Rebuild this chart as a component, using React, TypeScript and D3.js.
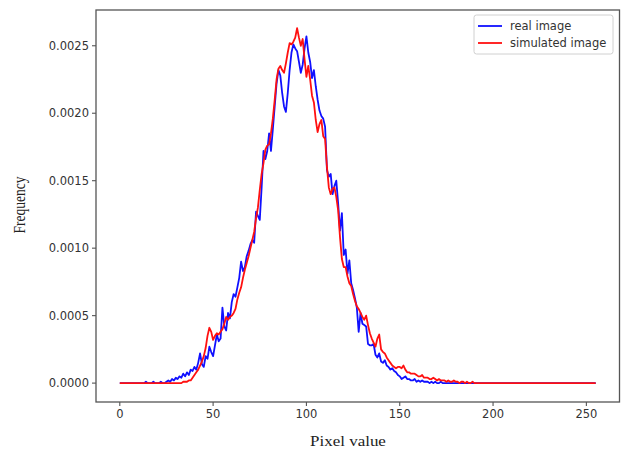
import React from "react";
import * as d3 from "d3";

// Pixel values 0..255
const pixels: number[] = Array.from({ length: 256 }, (_, i) => i);

// real image histogram (frequency), pixel 0..255
const realImage: number[] = [
  0, 0, 0, 0, 0, 0, 0, 0, 0, 0, 0, 0, 0, 0, 0.00001, 0,
  0, 0, 0.00001, 0, 0, 0, 0.00001, 0, 0, 0.00001, 0.00002, 0.00001, 0.00003, 0.00002, 0.00004, 0.00003,
  0.00005, 0.00004, 0.00007, 0.00005, 0.00008, 0.00006, 0.0001, 0.00009, 0.00012, 0.0001, 0.00015, 0.00022, 0.00014, 0.00012, 0.0002, 0.00018,
  0.00027, 0.00023, 0.0002, 0.00028, 0.00036, 0.00031, 0.00033, 0.00056, 0.00042, 0.00039, 0.00052, 0.00048, 0.0006, 0.00066, 0.00064, 0.00071,
  0.00078, 0.0009, 0.00083, 0.00086, 0.00094, 0.00098, 0.00103, 0.00106, 0.00104, 0.00127, 0.00124, 0.00121, 0.00145, 0.00172, 0.00166, 0.00172,
  0.00185, 0.00172, 0.00188, 0.00205, 0.00222, 0.00232, 0.00228, 0.00215, 0.00205, 0.00201, 0.00215, 0.00232, 0.00245, 0.00251, 0.00248, 0.00246,
  0.00238, 0.0023, 0.00236, 0.00248, 0.00257, 0.00245, 0.00238, 0.00226, 0.00232, 0.0022, 0.0021, 0.00202, 0.00198, 0.00196, 0.0019, 0.00158,
  0.00153, 0.00155, 0.0014, 0.00146, 0.0015, 0.00133, 0.00113, 0.00126, 0.00095, 0.00099, 0.00081, 0.00091, 0.00074, 0.00069, 0.00063, 0.00056,
  0.00038, 0.00052, 0.00044, 0.00043, 0.00042, 0.00029, 0.00028, 0.00028, 0.00029, 0.00021, 0.00019, 0.00022, 0.00016, 0.00015, 0.00017, 0.00013,
  0.00012, 0.0001, 0.00011, 0.00009, 0.00008, 0.00006, 0.00005, 0.00003, 0.00004, 0.00005, 0.00003, 0.00003, 0.00002, 0.00002, 0.00003, 0.00001,
  0.00002, 0.00001, 0.00002, 0.00001, 0.00001, 0.00001, 0, 0.00001, 0, 0.00001, 0, 0, 0.00001, 0, 0, 0,
  0, 0, 0, 0, 0, 0, 0, 0, 0, 0, 0, 0, 0, 0, 0, 0,
  0, 0, 0, 0, 0, 0, 0, 0, 0, 0, 0, 0, 0, 0, 0, 0,
  0, 0, 0, 0, 0, 0, 0, 0, 0, 0, 0, 0, 0, 0, 0, 0,
  0, 0, 0, 0, 0, 0, 0, 0, 0, 0, 0, 0, 0, 0, 0, 0,
  0, 0, 0, 0, 0, 0, 0, 0, 0, 0, 0, 0, 0, 0, 0, 0,
];

// simulated image histogram (frequency), pixel 0..255
const simulatedImage: number[] = [
  0, 0, 0, 0, 0, 0, 0, 0, 0, 0, 0, 0, 0, 0, 0, 0,
  0, 0, 0, 0, 0, 0, 0, 0, 0, 0, 0, 0, 0, 0, 0, 0,
  0, 0, 0.00001, 0.00001, 0.00001, 0.00002, 0.00002, 0.00004, 0.00006, 0.00008, 0.0001, 0.00013, 0.00016, 0.0002, 0.00026, 0.00035,
  0.00041, 0.00038, 0.00032, 0.00035, 0.00037, 0.00036, 0.00038, 0.0004, 0.00044, 0.00049, 0.00047, 0.00049, 0.0005, 0.00052, 0.00055, 0.00062,
  0.00067, 0.00071, 0.00078, 0.00084, 0.00089, 0.00094, 0.001, 0.00106, 0.00112, 0.00122, 0.0013, 0.00143, 0.00155, 0.00163, 0.00173, 0.00176,
  0.00177, 0.00185, 0.00196, 0.0021, 0.00225, 0.00233, 0.00235, 0.00232, 0.0023, 0.00237, 0.00245, 0.00252, 0.00251, 0.00253, 0.00256, 0.00263,
  0.00256, 0.0025, 0.00255, 0.0024, 0.00227, 0.00235, 0.00225, 0.00213, 0.00208, 0.00195, 0.00186, 0.00192, 0.00195, 0.00183, 0.00181, 0.0016,
  0.00145, 0.0014, 0.00144, 0.00145, 0.00138, 0.00128, 0.00108, 0.00092, 0.00086, 0.00086, 0.00079, 0.00074, 0.00072, 0.00066, 0.00061, 0.00057,
  0.00055, 0.00052, 0.00049, 0.00047, 0.0005, 0.00043, 0.00037, 0.00033, 0.0003, 0.00027, 0.00033, 0.00036, 0.00025, 0.00023, 0.00022, 0.00019,
  0.00017, 0.00015, 0.00013, 0.00012, 0.00011, 0.00012, 0.00012, 0.00011, 0.00013, 0.0001, 0.00008, 0.00008, 0.00007, 0.00007, 0.00007, 0.00006,
  0.00005, 0.00005, 0.00006, 0.00004, 0.00004, 0.00004, 0.00003, 0.00003, 0.00004, 0.00003, 0.00002, 0.00003, 0.00002, 0.00002, 0.00002, 0.00001,
  0.00002, 0.00001, 0.00001, 0.00002, 0.00001, 0.00001, 0, 0.00001, 0.00001, 0, 0.00001, 0, 0, 0.00001, 0, 0,
  0, 0, 0, 0, 0, 0, 0, 0, 0, 0, 0, 0, 0, 0, 0, 0,
  0, 0, 0, 0, 0, 0, 0, 0, 0, 0, 0, 0, 0, 0, 0, 0,
  0, 0, 0, 0, 0, 0, 0, 0, 0, 0, 0, 0, 0, 0, 0, 0,
  0, 0, 0, 0, 0, 0, 0, 0, 0, 0, 0, 0, 0, 0, 0, 0,
];

const xTicks: number[] = [0, 50, 100, 150, 200, 250];
const yTicks: number[] = [0, 0.0005, 0.001, 0.0015, 0.002, 0.0025];
const seriesNames: string[] = ["real image", "simulated image"];
const seriesColors: string[] = ["#1010ff", "#ff1010"];

const W = 623;
const H = 455;
const left = 96;
const right = 619.5;
const top = 10;
const bottom = 402;

export default function App() {
  const x = d3.scaleLinear().domain([-12.75, 267.75]).range([left, right]);
  const y = d3.scaleLinear().domain([-0.00014, 0.002765]).range([bottom, top]);
  const line = d3
    .line<number>()
    .x((_, i) => x(pixels[i]))
    .y((d) => y(d));
  const series = [realImage, simulatedImage];
  const axisColor = "#555";
  const textColor = "#333";
  const tickFont = "'DejaVu Sans', sans-serif";

  return (
    <svg
      width={W}
      height={H}
      style={{ position: "absolute", left: 0, top: 0, background: "#fff" }}
    >
      <rect x={0} y={0} width={W} height={H} fill="#fff" />
      {series.map((s, k) => (
        <path
          key={k}
          d={line(s) || ""}
          fill="none"
          stroke={seriesColors[k]}
          strokeWidth={1.8}
          strokeLinejoin="round"
        />
      ))}
      <rect
        x={left}
        y={top}
        width={right - left}
        height={bottom - top}
        fill="none"
        stroke={axisColor}
        strokeWidth={1.3}
      />
      {xTicks.map((t) => (
        <g key={"x" + t}>
          <line x1={x(t)} x2={x(t)} y1={bottom} y2={bottom + 4} stroke={axisColor} strokeWidth={1.1} />
          <text
            x={x(t)}
            y={bottom + 16}
            textAnchor="middle"
            fontFamily={tickFont}
            fontSize={11.5}
            fill={textColor}
          >
            {t}
          </text>
        </g>
      ))}
      {yTicks.map((t) => (
        <g key={"y" + t}>
          <line x1={left - 4} x2={left} y1={y(t)} y2={y(t)} stroke={axisColor} strokeWidth={1.1} />
          <text
            x={left - 7}
            y={y(t)}
            dy="0.36em"
            textAnchor="end"
            fontFamily={tickFont}
            fontSize={11.5}
            fill={textColor}
          >
            {t.toFixed(4)}
          </text>
        </g>
      ))}
      <text
        transform={`translate(348,446) scale(1.17,1)`}
        textAnchor="middle"
        fontFamily="'Liberation Serif', 'Times New Roman', serif"
        fontSize={14.5}
        fill="#222"
      >
        Pixel value
      </text>
      <text
        transform={`translate(25,205) scale(1.3,1) rotate(-90)`}
        textAnchor="middle"
        fontFamily="'Liberation Serif', 'Times New Roman', serif"
        fontSize={13.5}
        fill="#222"
      >
        Frequency
      </text>
      <g>
        <rect
          x={474}
          y={15}
          width={139}
          height={39}
          rx={2.5}
          fill="#fff"
          fillOpacity={0.85}
          stroke="#d0d0d0"
          strokeWidth={1}
        />
        {seriesNames.map((n, k) => (
          <g key={n}>
            <line
              x1={478}
              x2={502}
              y1={26 + k * 17}
              y2={26 + k * 17}
              stroke={seriesColors[k]}
              strokeWidth={1.8}
            />
            <text
              x={510}
              y={26 + k * 17}
              dy="0.35em"
              fontFamily={tickFont}
              fontSize={11.5}
              fill={textColor}
            >
              {n}
            </text>
          </g>
        ))}
      </g>
    </svg>
  );
}
